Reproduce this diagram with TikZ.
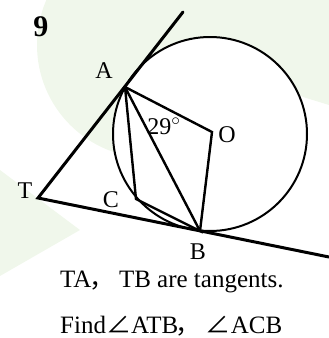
\documentclass[tikz,border=0pt]{standalone}
\usepackage{fontspec}
\setmainfont{Liberation Serif}
\newfontfamily\cjk{Noto Sans CJK SC}
\usetikzlibrary{positioning}
\definecolor{bggreen}{RGB}{240,247,235}

\begin{document}
\begin{tikzpicture}[
    x=1pt, y=-1pt,
    lbl/.style={font=\fontsize{24}{27}\selectfont, inner sep=0pt},
    tangent/.style={line width=3pt, line cap=round},
    chord/.style={line width=2.4pt, line cap=round}
]
    \useasboundingbox (0,0) rectangle (329,338);
    \clip (0,0) rectangle (329,338);

    % 背景
    \fill[bggreen] (150,45) circle (113pt);
    \fill[bggreen] (150,0) -- (329,0) -- (329,105) -- (303,97) -- (250,60) -- cycle;
    \fill[bggreen] (0,170) -- (80,230) -- (0,276) -- cycle;

    % 点
    \coordinate (O) at (212,132);
    \coordinate (A) at (125,87);
    \coordinate (B) at (200,231);
    \coordinate (C) at (136,199);
    \coordinate (T) at (38,198);
    \coordinate (P) at (183,12);
    \coordinate (Q) at (329,257);

    % 圆
    \draw[line width=2pt, fill=white] (210,134) circle (97pt);

    % 切线
    \draw[tangent] (P) -- (T) -- (Q);

    % 弦与半径
    \draw[chord] (A) -- (C) -- (B) -- (A);
    \draw[chord] (A) -- (O) -- (B);

    % 标签
    \node[lbl, font=\fontsize{30}{32}\selectfont\bfseries] (n9) at (41,27) {9};
    \node[lbl] (lA) at (104,71) {A};
    \node[lbl] (lO) at (227,135) {O};
    \node[lbl] (lT) at (25,191) {T};
    \node[lbl] (lC) at (111,200) {C};
    \node[lbl] (lB) at (198,252) {B};
    \node[lbl] (ang) at (164,126) {29$^\circ$};

    \node[lbl, font=\fontsize{25}{28}\selectfont, anchor=base west] (line1) at (60,287)
        {TA\hspace{-0.1em}{\cjk ，}\hspace{0.2em}TB are tangents.};
    \node[lbl, font=\fontsize{25}{28}\selectfont, anchor=base west] (line2) at (60,333)
        {Find{\cjk ∠}ATB\hspace{-0.1em}{\cjk ，}\hspace{0.2em}{\cjk ∠}ACB};
\end{tikzpicture}
\end{document}
